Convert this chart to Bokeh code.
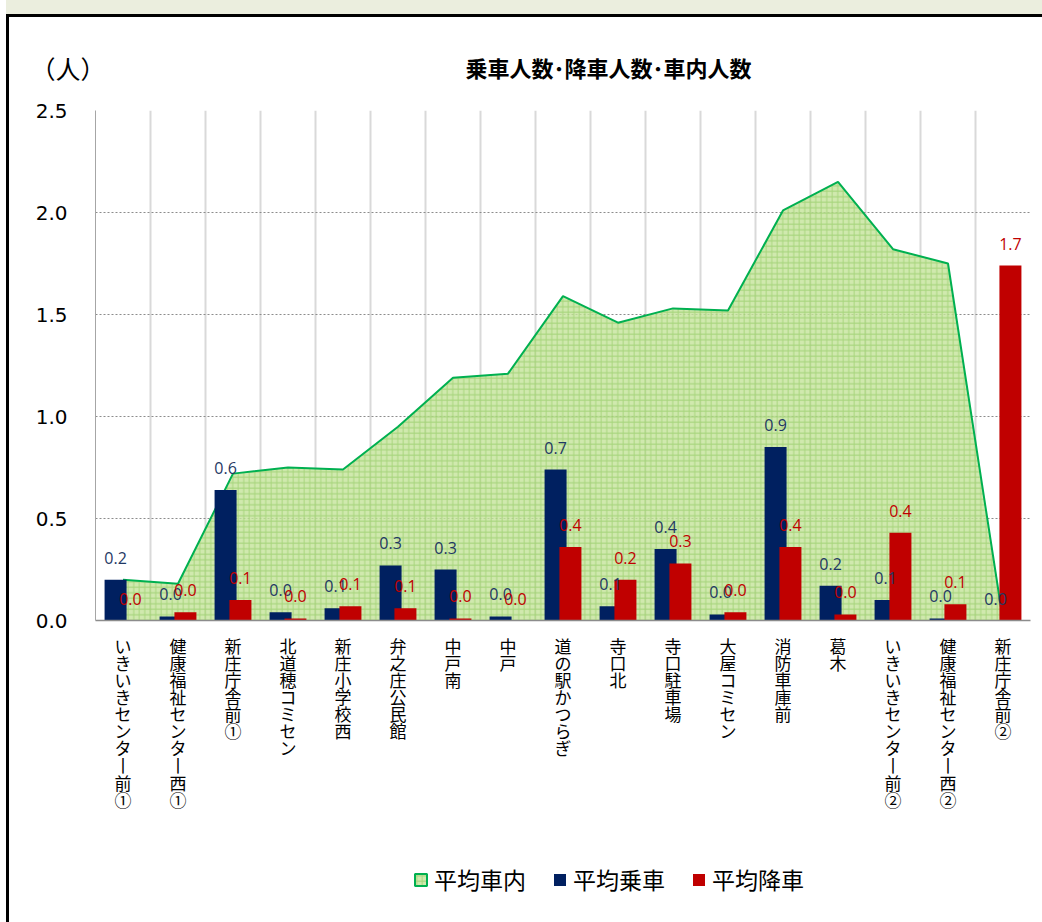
import math
from bokeh.plotting import figure
from bokeh.models import (Range1d, FixedTicker, Legend, LegendItem, Label, Div,
                          ColumnDataSource, NumeralTickFormatter)
from bokeh.layouts import column, row
from bokeh.transform import dodge
from bokeh.core.properties import value
from bokeh.embed import file_html
from bokeh.resources import INLINE

# ---------------- data ----------------
stops = ["いきいきセンター前①", "健康福祉センター西①", "新庄庁舎前①", "北道穂コミセン",
         "新庄小学校西", "弁之庄公民館", "中戸南", "中戸", "道の駅かつらぎ", "寺口北",
         "寺口駐車場", "大屋コミセン", "消防車庫前", "葛木", "いきいきセンター前②",
         "健康福祉センター西②", "新庄庁舎前②"]
onboard = [0.20, 0.18, 0.72, 0.75, 0.74, 0.95, 1.19, 1.21, 1.59, 1.46, 1.53, 1.52,
           2.01, 2.15, 1.82, 1.75, 0.0]
boarding = [0.20, 0.02, 0.64, 0.04, 0.06, 0.27, 0.25, 0.02, 0.74, 0.07, 0.35, 0.03,
            0.85, 0.17, 0.10, 0.01, 0.0]
alighting = [0.0, 0.04, 0.10, 0.01, 0.07, 0.06, 0.01, 0.0, 0.36, 0.20, 0.28, 0.04,
             0.36, 0.03, 0.43, 0.08, 1.74]
y_ticks = [0.0, 0.5, 1.0, 1.5, 2.0, 2.5]
series_names = ["平均車内", "平均乗車", "平均降車"]
title_text = "乗車人数･降車人数･車内人数"
unit_text = "（人）"

JP = "Noto Sans CJK JP"
NAVY = "#002060"
RED = "#C00000"
GREEN_LINE = "#00B050"
NAN = float("nan")


def fmt1(v):
    return "%.1f" % (math.floor(v * 10 + 0.5 + 1e-9) / 10)


def vertical(name):
    # upright stacked characters; the long-vowel mark is shown in its vertical form
    return "\n".join("丨" if ch == "ー" else ch for ch in name)


xs = list(range(1, len(stops) + 1))
src = ColumnDataSource(dict(
    x=xs, onboard=onboard, boarding=boarding, alighting=alighting,
    blab=[fmt1(v) for v in boarding], alab=[fmt1(v) for v in alighting],
))

area_style = dict(fill_color="#C4E39A", fill_alpha=0.8, hatch_pattern="+",
                  hatch_color="#8CC85C", hatch_alpha=0.6, hatch_scale=5.5,
                  hatch_weight=1)

# ---------------- main figure ----------------
W = 1025
H1 = 823
p = figure(width=W, height=H1, x_range=Range1d(0.5, len(stops) + 0.5),
           y_range=Range1d(0, 2.5), output_backend="svg", toolbar_location=None,
           min_border_left=86, min_border_right=4, min_border_top=93,
           min_border_bottom=H1 - 603, margin=(0, 0, 0, 0))
p.outline_line_color = None
p.background_fill_color = "white"
p.border_fill_color = "white"

p.xgrid.ticker = FixedTicker(ticks=[i + 0.5 for i in range(len(stops) + 1)])
p.xgrid.grid_line_color = "#D9D9D9"
p.xgrid.grid_line_width = 2
p.ygrid.ticker = FixedTicker(ticks=y_ticks[1:])
p.ygrid.grid_line_color = "#8C8C8C"
p.ygrid.grid_line_dash = "2 2"
p.ygrid.grid_line_width = 1

p.yaxis.ticker = FixedTicker(ticks=y_ticks)
p.yaxis.formatter = NumeralTickFormatter(format="0.0")
p.yaxis.major_label_text_font = "DejaVu Sans"
p.yaxis.major_label_text_font_size = "20px"
p.yaxis.major_label_text_color = "#000000"
p.yaxis.major_label_standoff = 22
p.yaxis.axis_line_color = "#A6A6A6"
p.yaxis.major_tick_line_color = None
p.yaxis.minor_tick_line_color = None

p.xaxis.ticker = FixedTicker(ticks=xs)
p.xaxis.major_label_overrides = {x: vertical(n) for x, n in zip(xs, stops)}
p.xaxis.major_label_text_font = JP
p.xaxis.major_label_text_font_size = "17px"
p.xaxis.major_label_text_line_height = 0.685
p.xaxis.major_label_text_color = "#000000"
p.xaxis.major_label_standoff = 6
p.xaxis.axis_line_color = "#8C8C8C"
p.xaxis.axis_line_width = 1.5
p.xaxis.major_tick_line_color = None
p.xaxis.minor_tick_line_color = None

# area (車内)
p.varea(x="x", y1=0, y2="onboard", source=src, **area_style)
p.line(x="x", y="onboard", source=src, line_color=GREEN_LINE, line_width=2)

# bars
p.vbar(x=dodge("x", -0.135), top="boarding", width=0.4, source=src,
       fill_color=NAVY, line_color=None)
p.vbar(x=dodge("x", 0.135), top="alighting", width=0.4, source=src,
       fill_color=RED, line_color=None)

# data labels
p.text(x=dodge("x", -0.135), y="boarding", text="blab", source=src,
       text_font=value("Open Sans"), text_font_size="16px", text_color="#1F3864",
       text_align="center", text_baseline="middle", y_offset=-22)
p.text(x=dodge("x", 0.135), y="alighting", text="alab", source=src,
       text_font=value("Open Sans"), text_font_size="16px", text_color=RED,
       text_align="center", text_baseline="middle", y_offset=-22)

# title and unit (side panel, so not clipped to the frame)
p.add_layout(Label(x=513, y=44, x_units="screen", y_units="screen", text=title_text,
                   text_align="center", text_baseline="middle", text_font=JP,
                   text_font_size="22px", text_font_style="bold",
                   text_color="#000000"), "above")
p.add_layout(Label(x=-65, y=11, x_units="screen", y_units="screen", text=unit_text,
                   text_align="left", text_baseline="middle",
                   text_font="Noto Sans CJK SC",
                   text_font_size="25px", text_color="#000000"), "above")

# ---------------- legend strip ----------------
H2 = 82
lg = figure(width=W, height=H2, x_range=Range1d(0, 1), y_range=Range1d(0, 1),
            output_backend="svg", toolbar_location=None, min_border=0,
            x_axis_location=None, y_axis_location=None, margin=(0, 0, 0, 0))
lg.outline_line_color = None
lg.xgrid.visible = False
lg.ygrid.visible = False
lg.background_fill_color = "white"
lg.border_fill_color = "white"

# legend proxies (no visible geometry)
r_area = lg.quad(left=[NAN], right=[NAN], top=[NAN], bottom=[NAN],
                 line_color=GREEN_LINE, line_width=2, **area_style)
r_navy = lg.quad(left=[NAN], right=[NAN], top=[NAN], bottom=[NAN],
                 fill_color=NAVY, line_color=None)
r_red = lg.quad(left=[NAN], right=[NAN], top=[NAN], bottom=[NAN],
                fill_color=RED, line_color=None)

legend = Legend(items=[LegendItem(label=series_names[0], renderers=[r_area]),
                       LegendItem(label=series_names[1], renderers=[r_navy]),
                       LegendItem(label=series_names[2], renderers=[r_red])],
                orientation="horizontal", location=(318, 26),
                label_text_font=JP, label_text_font_size="23px",
                label_text_color="#000000",
                glyph_width=15, glyph_height=15, label_standoff=6, spacing=26,
                padding=0, margin=0, border_line_color=None,
                background_fill_alpha=0)
lg.add_layout(legend)

header = Div(text="", width=1036, height=17, margin=(0, 0, 0, 0),
             styles={"background": "linear-gradient(to bottom, #EBEEDE 0px, #EBEEDE 14px, #000000 14px, #000000 17px)"})
border = Div(text="", width=3, height=H1 + H2, margin=(0, 0, 0, 0),
             styles={"background-color": "#000000"})

layout = column(header, row(border, column(p, lg, margin=(0, 0, 0, 0)), margin=(0, 0, 0, 0)),
                margin=(0, 0, -8, 6))

open("out.html", "w").write(file_html(layout, INLINE))
